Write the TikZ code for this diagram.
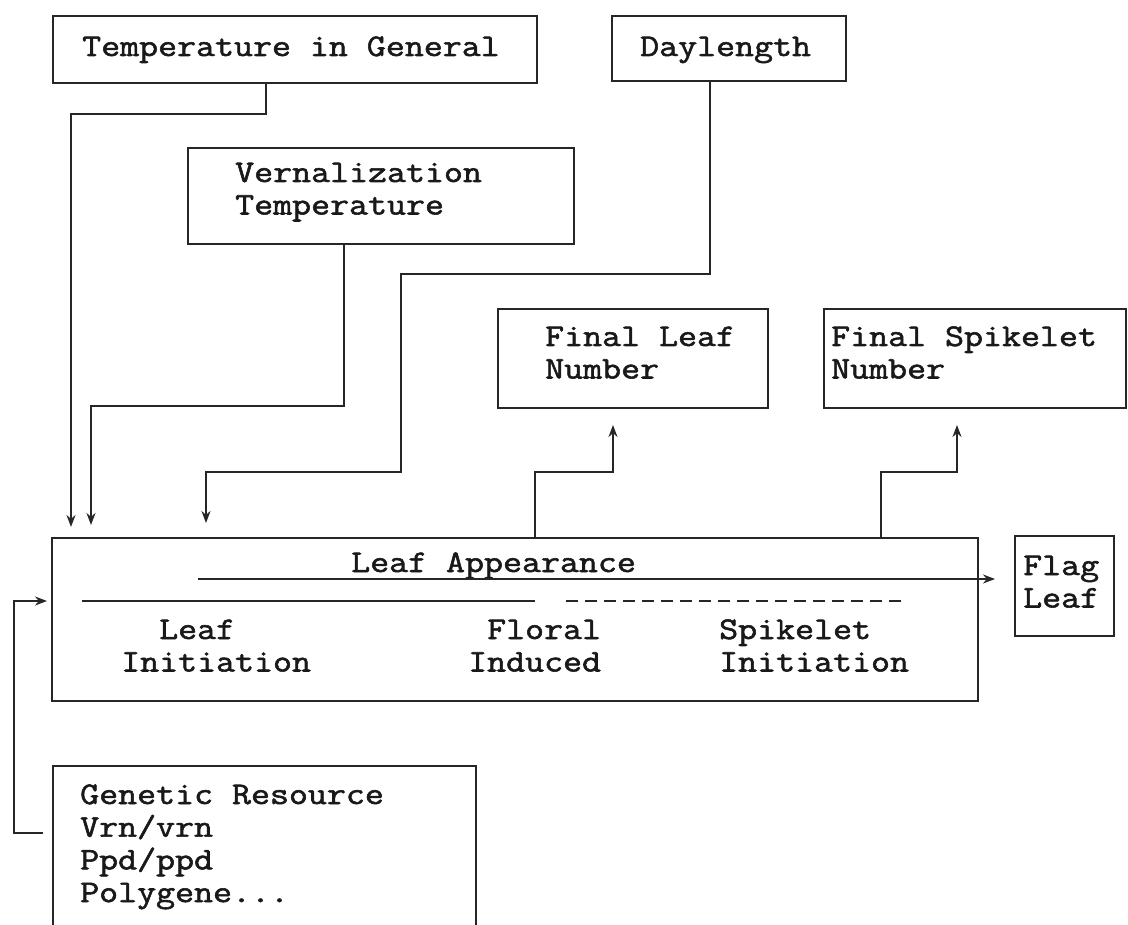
\documentclass[tikz,border=0pt]{standalone}
\usepackage{fontspec}
\newfontfamily\tw{Latin Modern Mono}[FakeBold=1.8,FakeStretch=1.17]
\usetikzlibrary{arrows.meta}
\newcommand\mylines[1]{\vtop{\baselineskip=32.5pt\lineskiplimit=-20pt #1}}
\begin{document}
\begin{tikzpicture}[x=1pt,y=-1pt,
  box/.style={draw=black!85, line width=2.2pt, rectangle, anchor=north west, inner sep=0pt},
  txt/.style={anchor=base west, inner sep=0pt,
    font=\tw\fontsize{31.5}{32.5}\selectfont, text=black!90},
  conn/.style={draw=black!85, line width=1.8pt},
  arr/.style={conn, -{Stealth[length=12pt,width=9pt]}},
]
\useasboundingbox (0,0) rectangle (1128,925);
\clip (0,0) rectangle (1128,925);
% boxes
\node[box, minimum width=484pt, minimum height=67pt] (temp) at (52,15) {};
\node[box, minimum width=234pt, minimum height=65pt] (day) at (611,15) {};
\node[box, minimum width=386pt, minimum height=96pt] (vern) at (187,147) {};
\node[box, minimum width=270pt, minimum height=99pt] (fleaf) at (497,308) {};
\node[box, minimum width=302pt, minimum height=99pt] (fspike) at (823,308) {};
\node[box, minimum width=926pt, minimum height=163pt] (main) at (51,537) {};
\node[box, minimum width=99pt, minimum height=100pt] (flag) at (1014,535) {};
\node[box, minimum width=423pt, minimum height=200pt] (gen) at (52,765) {};
% texts
\node[txt] (t1) at (82,56) {Temperature in General};
\node[txt] (t2) at (640,56) {Daylength};
\node[txt] (t3) at (235,182) {\mylines{\hbox{Vernalization}\hbox{Temperature}}};
\node[txt] (t5) at (545,346) {\mylines{\hbox{Final Leaf}\hbox{Number}}};
\node[txt] (t7) at (831,346) {\mylines{\hbox{Final Spikelet}\hbox{Number}}};
\node[txt] (t9) at (351,572) {Leaf Appearance};
\node[txt] (t10) at (1023,575) {\mylines{\hbox{Flag}\hbox{Leaf}}};
\node[txt] (t12) at (121,639) {\mylines{\hbox{\hphantom{In}Leaf}\hbox{Initiation}}};
\node[txt] (t14) at (468,639) {\mylines{\hbox{\hphantom{I}Floral}\hbox{Induced}}};
\node[txt] (t16) at (719,639) {\mylines{\hbox{Spikelet}\hbox{Initiation}}};
\node[txt] (t18) at (80,804) {\mylines{\baselineskip=32.7pt\hbox{Genetic Resource}\hbox{Vrn/vrn}\hbox{Ppd/ppd}\hbox{Polygene...}}};
% free ends
\coordinate (a1) at (71,527);
\coordinate (a2) at (91,525);
\coordinate (a3) at (206,523);
\coordinate (a4) at (613,425);
\coordinate (a5) at (957,425);
\coordinate (a6) at (47,601);
\coordinate (la0) at (198,579);
\coordinate (la1) at (995,579);
\coordinate (s0) at (82,601);
\coordinate (s1) at (535,601);
\coordinate (d0) at (566,601);
\coordinate (d1) at (907,601);
% connectors
\draw[arr] ([xshift=-29pt]temp.south) |- (71,114) -- (a1);
\draw[arr] ([xshift=-37pt]vern.south) |- (91,406) -- (a2);
\draw[arr] ([xshift=-19pt]day.south) |- (401,274) |- (206,472) -- (a3);
\draw[arr] ([xshift=20pt]main.north) |- (613,472) -- (a4);
\draw[arr] ([xshift=366pt]main.north) |- (957,472) -- (a5);
\draw[arr] ([xshift=-9pt,yshift=-68pt]gen.north west) -| (14,601) -- (a6);
\draw[arr] (la0) -- (la1);
\draw[conn] (s0) -- (s1);
\draw[conn, dash pattern=on 12pt off 7pt] (d0) -- (d1);
\end{tikzpicture}
\end{document}
